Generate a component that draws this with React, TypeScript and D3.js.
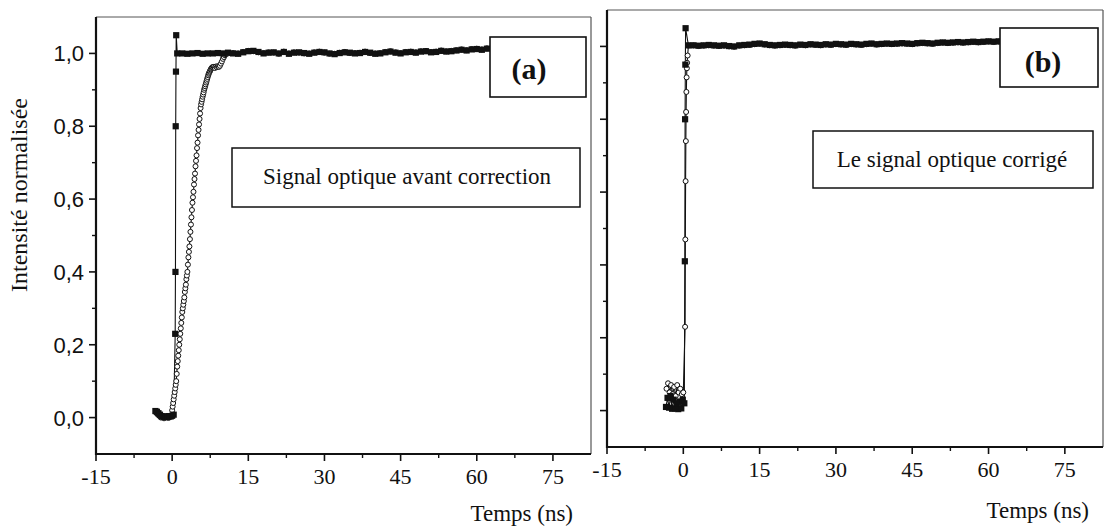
import React from 'react';
import * as d3 from 'd3';

// ---- axis ticks ----
const xMajor = [-15, 0, 15, 30, 45, 60, 75];
const xTickLabels = ['-15', '0', '15', '30', '45', '60', '75'];
const xMinor = [-7.5, 7.5, 22.5, 37.5, 52.5, 67.5];
const yMajor = [0, 0.2, 0.4, 0.6, 0.8, 1.0];
const yTickLabels = ['0,0', '0,2', '0,4', '0,6', '0,8', '1,0'];
const yMinor = [0.1, 0.3, 0.5, 0.7, 0.9];

// ---- shared sampling of the flat part (ns) ----
const bandTimes = [
  1, 2, 3, 4, 5, 6, 7, 8, 9, 10, 11, 12, 13, 14, 15, 16, 17, 18, 19, 20, 21,
  22, 23, 24, 25, 26, 27, 28, 29, 30, 31, 32, 33, 34, 35, 36, 37, 38, 39, 40,
  41, 42, 43, 44, 45, 46, 47, 48, 49, 50, 51, 52, 53, 54, 55, 56, 57, 58, 59,
  60, 61, 62,
];

// ---- panel (a): reference pulse (filled squares) ----
const aRefHead: [number, number][] = [
  [-3.3, 0.018], [-3.0, 0.016], [-2.7, 0.012], [-2.4, 0.008], [-2.1, 0.004],
  [-1.8, 0.003], [-1.5, 0.002], [-1.2, 0.003], [-0.9, 0.002], [-0.6, 0.004],
  [-0.3, 0.003], [0.0, 0.005], [0.3, 0.008], [0.6, 0.23], [0.65, 0.40],
  [0.7, 0.80], [0.75, 0.95], [0.8, 1.05],
];
const aRefBand = [
  1.0, 1.0, 0.999, 1.0, 1.001, 0.999, 1.0, 1.0, 1.001, 1.0, 1.002, 1.0, 0.999,
  1.003, 1.006, 1.007, 1.004, 1.0, 1.002, 1.003, 1.0, 1.004, 0.999, 1.002,
  1.003, 1.001, 0.999, 1.002, 1.004, 1.003, 1.0, 0.998, 1.001, 1.003, 1.002,
  1.0, 1.001, 1.004, 1.002, 0.999, 1.0, 1.003, 1.005, 1.002, 1.0, 1.003, 1.004,
  1.002, 1.005, 1.006, 1.003, 1.004, 1.007, 1.005, 1.006, 1.008, 1.01, 1.008,
  1.011, 1.012, 1.01, 1.013,
];

// ---- panel (a): optical signal before correction (open circles) ----
const aSigHead: [number, number][] = [
  [-3.1, 0.012], [-2.8, 0.008], [-2.5, 0.004], [-2.2, 0.0], [-1.9, 0.002],
  [-1.6, -0.002], [-1.3, 0.001], [-1.0, 0.0], [-0.7, -0.001], [-0.4, 0.002],
  [-0.1, 0.004],
  [0.0, 0.02], [0.1, 0.03], [0.2, 0.04], [0.3, 0.05], [0.4, 0.06], [0.5, 0.07],
  [0.6, 0.08], [0.7, 0.09], [0.8, 0.10], [0.9, 0.12], [1.0, 0.14], [1.1, 0.155],
  [1.2, 0.17], [1.3, 0.185], [1.4, 0.20], [1.5, 0.215], [1.6, 0.23],
  [1.7, 0.245], [1.8, 0.26], [1.9, 0.275], [2.0, 0.29], [2.1, 0.30],
  [2.2, 0.31], [2.3, 0.32], [2.4, 0.33], [2.5, 0.345], [2.6, 0.355],
  [2.7, 0.365], [2.8, 0.38], [2.9, 0.39], [3.0, 0.40], [3.1, 0.42], [3.2, 0.44],
  [3.3, 0.455], [3.4, 0.47], [3.5, 0.49], [3.6, 0.51], [3.7, 0.53], [3.8, 0.55],
  [3.9, 0.57], [4.0, 0.59], [4.1, 0.605], [4.2, 0.62], [4.3, 0.64],
  [4.4, 0.655], [4.5, 0.67], [4.6, 0.69], [4.7, 0.705], [4.8, 0.72],
  [4.9, 0.74], [5.0, 0.755], [5.1, 0.775], [5.2, 0.79], [5.3, 0.805],
  [5.4, 0.82], [5.5, 0.835], [5.6, 0.85], [5.7, 0.86], [5.8, 0.867],
  [5.9, 0.874], [6.0, 0.881], [6.1, 0.887], [6.2, 0.893], [6.3, 0.90],
  [6.4, 0.905], [6.5, 0.91], [6.6, 0.915], [6.7, 0.92], [6.8, 0.925],
  [6.9, 0.93], [7.0, 0.935], [7.1, 0.94], [7.2, 0.944], [7.3, 0.947],
  [7.4, 0.95], [7.5, 0.953], [7.6, 0.956], [7.7, 0.958], [7.8, 0.96],
  [7.9, 0.962], [8.0, 0.962], [8.2, 0.963], [8.4, 0.96], [8.6, 0.964],
  [8.8, 0.962], [9.0, 0.965], [9.2, 0.963], [9.4, 0.966], [9.6, 0.972],
  [9.8, 0.978], [10.0, 0.985], [10.2, 0.99], [10.4, 0.995], [10.6, 0.998],
];
// circles on the plateau, from 11 ns to 62 ns
const aSigTailTimes = [
  11, 12, 13, 14, 15, 16, 17, 18, 19, 20, 21, 22, 23, 24, 25, 26, 27, 28, 29,
  30, 31, 32, 33, 34, 35, 36, 37, 38, 39, 40, 41, 42, 43, 44, 45, 46, 47, 48,
  49, 50, 51, 52, 53, 54, 55, 56, 57, 58, 59, 60, 61, 62,
];
const aSigTail = [
  1.0, 1.001, 1.0, 1.004, 1.007, 1.006, 1.003, 1.001, 1.003, 1.002, 0.999,
  1.005, 1.0, 1.003, 1.002, 1.0, 1.0, 1.003, 1.005, 1.002, 0.999, 0.999, 1.002,
  1.004, 1.001, 1.001, 1.002, 1.005, 1.001, 1.0, 1.001, 1.004, 1.006, 1.003,
  1.001, 1.004, 1.005, 1.003, 1.006, 1.007, 1.004, 1.005, 1.008, 1.006, 1.007,
  1.009, 1.011, 1.009, 1.012, 1.013, 1.011, 1.014,
];

// ---- panel (b): reference pulse (filled squares) ----
const bRefHead: [number, number][] = [
  [-3.4, 0.01], [-3.1, 0.035], [-2.8, 0.008], [-2.5, 0.04], [-2.2, 0.005],
  [-1.9, 0.03], [-1.6, 0.006], [-1.3, 0.02], [-1.0, 0.004], [-0.7, 0.025],
  [-0.4, 0.006], [-0.1, 0.03], [0.2, 0.02], [0.3, 0.41], [0.35, 0.80],
  [0.4, 0.95], [0.45, 1.05],
];
const bRefBand = [
  1.003, 1.003, 1.002, 1.003, 1.004, 1.003, 1.002, 1.003, 1.001, 1.0, 1.003,
  1.004, 1.005, 1.007, 1.008, 1.006, 1.004, 1.003, 1.004, 1.005, 1.004, 1.003,
  1.005, 1.004, 1.006, 1.005, 1.004, 1.006, 1.005, 1.007, 1.006, 1.005, 1.007,
  1.006, 1.005, 1.007, 1.008, 1.006, 1.007, 1.008, 1.007, 1.008, 1.009, 1.008,
  1.007, 1.009, 1.01, 1.009, 1.008, 1.01, 1.011, 1.01, 1.011, 1.012, 1.011,
  1.012, 1.013, 1.012, 1.013, 1.014, 1.013, 1.014,
];

// ---- panel (b): corrected optical signal (open circles) ----
const bSigHead: [number, number][] = [
  [-3.3, 0.06], [-3.0, 0.075], [-2.7, 0.05], [-2.4, 0.07], [-2.1, 0.045],
  [-1.8, 0.065], [-1.5, 0.04], [-1.2, 0.07], [-0.9, 0.05], [-0.6, 0.06],
  [-0.3, 0.045], [0.0, 0.05], [0.35, 0.23], [0.4, 0.47], [0.45, 0.63],
  [0.5, 0.74], [0.55, 0.82], [0.6, 0.875], [0.65, 0.915], [0.7, 0.94],
  [0.75, 0.955], [0.85, 0.975],
];
const bSigBand = [
  1.002, 1.003, 1.001, 1.002, 1.003, 1.002, 1.001, 1.002, 1.0, 0.999, 1.002,
  1.003, 1.004, 1.006, 1.007, 1.005, 1.003, 1.002, 1.003, 1.004, 1.003, 1.002,
  1.004, 1.003, 1.005, 1.004, 1.003, 1.005, 1.004, 1.006, 1.005, 1.004, 1.006,
  1.005, 1.004, 1.006, 1.007, 1.005, 1.006, 1.007, 1.006, 1.007, 1.008, 1.007,
  1.006, 1.008, 1.009, 1.008, 1.007, 1.009, 1.01, 1.009, 1.01, 1.011, 1.01,
  1.011, 1.012, 1.011, 1.012, 1.013, 1.012, 1.013,
];

const SERIF = "'Liberation Serif', 'Times New Roman', serif";
const SANS = "'Liberation Sans', Arial, sans-serif";

type Pt = [number, number];

function zipPts(times: number[], vals: number[]): Pt[] {
  return times.map((t, i) => [t, vals[i]] as Pt);
}

type PanelProps = {
  x0: number; x1: number; top: number; bottom: number;
  refPts: Pt[]; sigPts: Pt[]; showYLabels: boolean;
};

function Panel({ x0, x1, top, bottom, refPts, sigPts, showYLabels }: PanelProps) {
  const x = d3.scaleLinear().domain([-15, 82.5]).range([x0, x1]);
  const y = d3.scaleLinear().domain([-0.1, 1.1]).range([bottom, top]);
  const line = d3.line<Pt>().x((d) => x(d[0])).y((d) => y(d[1]));
  const sq = 6.2;
  return (
    <g>
      {/* frame */}
      <line x1={x0} x2={x1} y1={top} y2={top} stroke="#555" strokeWidth={1} />
      <line x1={x1} x2={x1} y1={top} y2={bottom} stroke="#555" strokeWidth={1.2} />
      <line x1={x0} x2={x0} y1={top} y2={bottom + 1} stroke="#111" strokeWidth={2.2} />
      <line x1={x0 - 1} x2={x1} y1={bottom} y2={bottom} stroke="#111" strokeWidth={2} />
      {/* y ticks */}
      {yMajor.map((v) => (
        <line key={'ym' + v} x1={x0 - 7} x2={x0} y1={y(v)} y2={y(v)} stroke="#111" strokeWidth={1.6} />
      ))}
      {yMinor.map((v) => (
        <line key={'yn' + v} x1={x0 - 4} x2={x0} y1={y(v)} y2={y(v)} stroke="#111" strokeWidth={1.4} />
      ))}
      {showYLabels &&
        yMajor.map((v, i) => (
          <text key={'yl' + v} x={x0 - 12} y={y(v) + 8} textAnchor="end" fontFamily={SANS} fontSize={22} fill="#111">
            {yTickLabels[i]}
          </text>
        ))}
      {/* x ticks */}
      {xMajor.map((v) => (
        <line key={'xm' + v} x1={x(v)} x2={x(v)} y1={bottom} y2={bottom + 7} stroke="#111" strokeWidth={1.6} />
      ))}
      {xMinor.map((v) => (
        <line key={'xn' + v} x1={x(v)} x2={x(v)} y1={bottom} y2={bottom + 4} stroke="#111" strokeWidth={1.4} />
      ))}
      {xMajor.map((v, i) => (
        <text key={'xl' + v} x={x(v)} y={bottom + 30} textAnchor="middle" fontFamily={SERIF} fontSize={22} fill="#111">
          {xTickLabels[i]}
        </text>
      ))}
      {/* data */}
      <path d={line(refPts) || ''} fill="none" stroke="#111" strokeWidth={1.1} />
      <path d={line(sigPts) || ''} fill="none" stroke="#111" strokeWidth={1.1} />
      {sigPts.map((d, i) => (
        <circle key={'c' + i} cx={x(d[0])} cy={y(d[1])} r={2.5} fill="#fff" stroke="#111" strokeWidth={1} />
      ))}
      {refPts.map((d, i) => (
        <rect key={'s' + i} x={x(d[0]) - sq / 2} y={y(d[1]) - sq / 2} width={sq} height={sq} fill="#111" />
      ))}
    </g>
  );
}

export default function App() {
  const aRef = aRefHead.concat(zipPts(bandTimes, aRefBand));
  const aSig = aSigHead.concat(zipPts(aSigTailTimes, aSigTail));
  const bRef = bRefHead.concat(zipPts(bandTimes, bRefBand));
  const bSig = bSigHead.concat(zipPts(bandTimes, bSigBand));

  return (
    <svg width={1106} height={530} style={{ position: 'absolute', left: 0, top: 0, background: '#fff' }}>
      <rect x={0} y={0} width={1106} height={530} fill="#fff" />
      <Panel x0={96} x1={591} top={17} bottom={454} refPts={aRef} sigPts={aSig} showYLabels={true} />
      <Panel x0={607} x1={1103} top={10} bottom={447} refPts={bRef} sigPts={bSig} showYLabels={false} />

      {/* y axis title */}
      <text transform="translate(27,195) rotate(-90)" textAnchor="middle" fontFamily={SERIF} fontSize={24} fill="#111">
        Intensité normalisée
      </text>

      {/* x axis titles */}
      <text x={573} y={521} textAnchor="end" fontFamily={SERIF} fontSize={23} fill="#111">Temps (ns)</text>
      <text x={1089} y={518} textAnchor="end" fontFamily={SERIF} fontSize={23} fill="#111">Temps (ns)</text>

      {/* panel tags */}
      <rect x={490} y={37} width={96} height={60} fill="#fff" stroke="#111" strokeWidth={1.6} />
      <text x={529} y={79} textAnchor="middle" fontFamily={SERIF} fontWeight="bold" fontSize={30} fill="#111">(a)</text>
      <rect x={1000} y={28} width={98} height={59} fill="#fff" stroke="#111" strokeWidth={1.6} />
      <text x={1043} y={72} textAnchor="middle" fontFamily={SERIF} fontWeight="bold" fontSize={30} fill="#111">(b)</text>

      {/* captions */}
      <rect x={232} y={148} width={348} height={59} fill="#fff" stroke="#111" strokeWidth={1.5} />
      <text x={407} y={184} textAnchor="middle" fontFamily={SERIF} fontSize={23} fill="#111">
        Signal optique avant correction
      </text>
      <rect x={813} y={131} width={280} height={57} fill="#fff" stroke="#111" strokeWidth={1.5} />
      <text x={952} y={167} textAnchor="middle" fontFamily={SERIF} fontSize={23} fill="#111">
        Le signal optique corrigé
      </text>
    </svg>
  );
}
